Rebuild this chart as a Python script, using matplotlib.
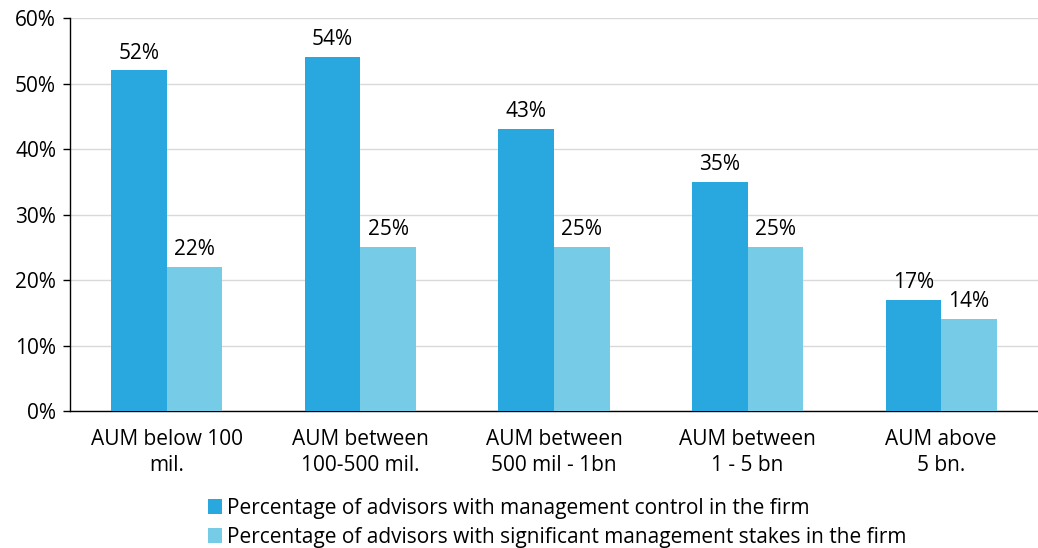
import matplotlib.pyplot as plt
import numpy as np

categories = ["AUM below 100\nmil.", "AUM between\n100-500 mil.", "AUM between\n500 mil - 1bn",
              "AUM between\n1 - 5 bn", "AUM above\n5 bn."]
control = [52, 54, 43, 35, 17]
stakes = [22, 25, 25, 25, 14]
series_names = ["Percentage of advisors with management control in the firm",
                "Percentage of advisors with significant management stakes in the firm"]
yticks = [0, 10, 20, 30, 40, 50, 60]

plt.rcParams['font.family'] = ['Open Sans', 'DejaVu Sans']
fs = 15

fig = plt.figure(figsize=(10.38, 5.48), dpi=100)
ax = fig.add_axes([0.0674, 0.25, 0.9326, 0.717])

x = np.arange(len(categories))
w = 0.287
b1 = ax.bar(x - w/2, control, w, color='#29A8E0', label=series_names[0], zorder=3)
b2 = ax.bar(x + w/2, stakes, w, color='#76CBE6', label=series_names[1], zorder=3)

# value labels
for bars in (b1, b2):
    for r in bars:
        ax.annotate(f"{int(r.get_height())}%", (r.get_x() + r.get_width()/2, r.get_height()),
                    xytext=(0, 5), textcoords='offset points', ha='center', va='bottom', fontsize=fs)

ax.set_xlim(-0.5, 4.5)
ax.set_ylim(0, 60)
ax.set_yticks(yticks)
ax.set_yticklabels([f"{t}%" for t in yticks], fontsize=fs)
ax.set_xticks(x)
ax.set_xticklabels(categories, fontsize=fs, linespacing=1.3)
ax.tick_params(axis='x', length=0, pad=13)
ax.tick_params(axis='y', length=5, width=1, pad=5)
ax.grid(axis='y', color='#D9D9D9', linewidth=1, zorder=0)
for s in ['top', 'right']:
    ax.spines[s].set_visible(False)
ax.spines['left'].set_linewidth(1)
ax.spines['bottom'].set_linewidth(1)

fig.legend(handles=[b1, b2], loc='upper left', bbox_to_anchor=(0.2, 0.092), frameon=False,
           fontsize=fs, handlelength=0.7, handleheight=0.7, handletextpad=0.25, labelspacing=0.4,
           borderpad=0, borderaxespad=0)

fig.savefig("out.png", dpi=100)
